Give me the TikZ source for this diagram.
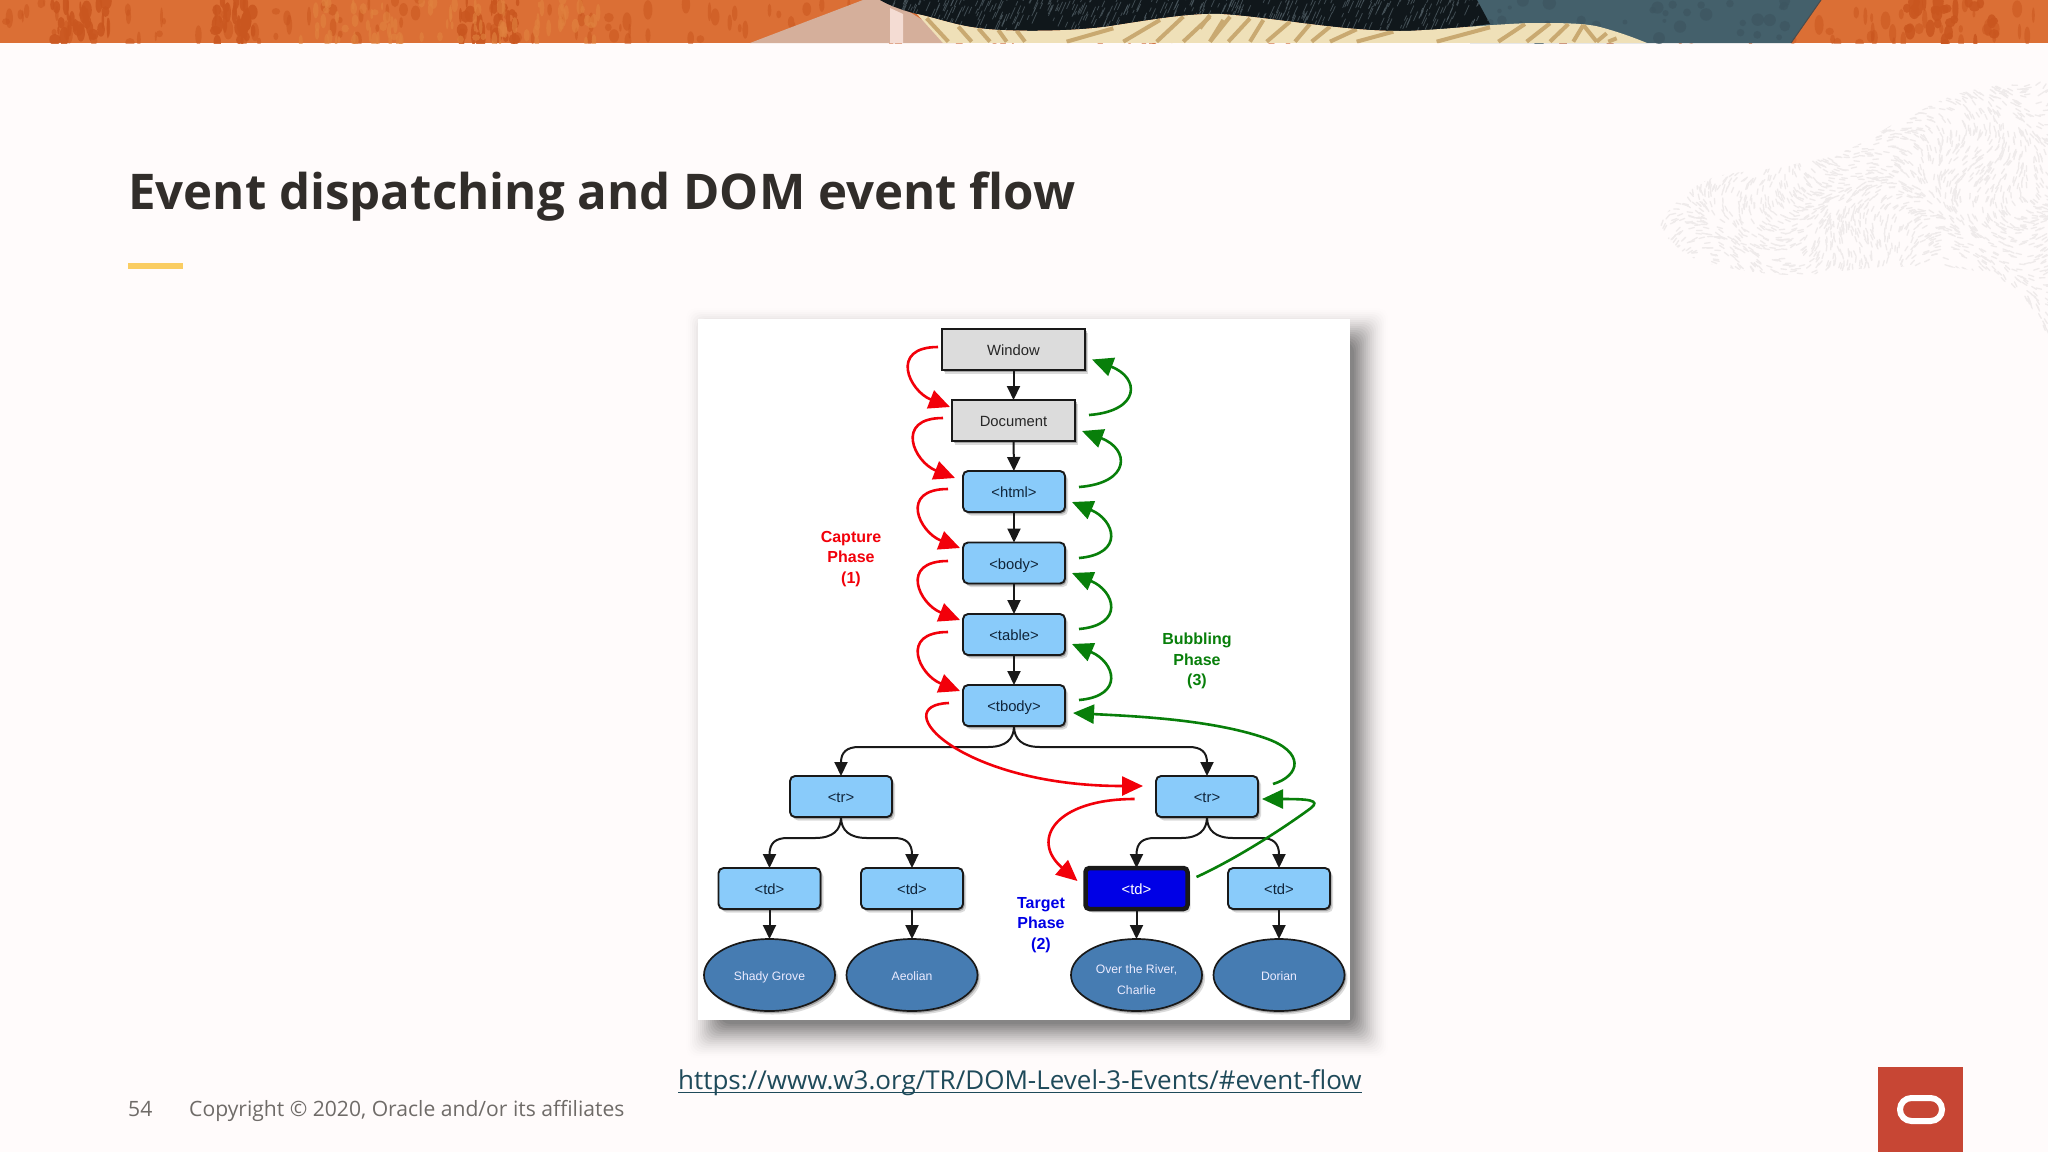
\documentclass[tikz,border=0pt]{standalone}
\usepackage{fontspec}
\setmainfont{Open Sans}
\newfontfamily\dg{Liberation Sans}
\usetikzlibrary{arrows.meta,shapes.geometric,shadows,calc}
\definecolor{bgc}{HTML}{FFFBFB}
\definecolor{orA}{HTML}{DB6F35}
\definecolor{orB}{HTML}{C9561F}
\definecolor{orC}{HTML}{E0833F}
\definecolor{peach}{HTML}{D5AF9B}
\definecolor{pstripe}{HTML}{F4DCD3}
\definecolor{tealc}{HTML}{44606B}
\definecolor{tealb}{HTML}{3D5661}
\definecolor{blk}{HTML}{10171B}
\definecolor{blkg}{HTML}{4F5C63}
\definecolor{cream}{HTML}{EFE0B8}
\definecolor{tan}{HTML}{C9A971}
\definecolor{blobc}{HTML}{EFEBEB}
\definecolor{titlec}{HTML}{312D2A}
\definecolor{barc}{HTML}{FACD62}
\definecolor{footc}{HTML}{6F6B68}
\definecolor{urlc}{HTML}{1F4A5A}
\definecolor{orared}{HTML}{C74634}
\definecolor{nblue}{HTML}{89CBFA}
\definecolor{ngray}{HTML}{DCDCDC}
\definecolor{nell}{HTML}{467CB2}
\definecolor{ntext}{HTML}{10253A}
\definecolor{rd}{HTML}{F2000A}
\definecolor{gr}{HTML}{087F0A}
\definecolor{bl}{HTML}{0000E6}
\tikzset{
  softshadow/.style={general shadow={shadow xshift=3pt,shadow yshift=-3.5pt,fill=black,opacity=.14},
                     general shadow={shadow xshift=1.5pt,shadow yshift=-2pt,fill=black,opacity=.25}},
  dbox/.style={draw=black!90,line width=1.9pt,minimum height=41pt,inner sep=0pt,outer sep=0pt,
               text height=12pt,text depth=0pt,
               font=\dg\fontsize{14.8}{17}\selectfont,text=ntext,softshadow},
  sbox/.style={dbox,fill=ngray,minimum width=#1,text=black!85},
  bbox/.style={dbox,fill=nblue,minimum width=102pt,rounded corners=5pt},
  tbox/.style={dbox,fill=bl,minimum width=102pt,rounded corners=4pt,line width=4.5pt,minimum height=41pt,text=white},
  dell/.style={ellipse,draw=black!90,line width=1.7pt,fill=nell,minimum width=131pt,minimum height=72pt,
               inner sep=0pt,outer sep=0pt,align=center,text=white!92!blue,
               text height=10.5pt,text depth=0pt,
               font=\dg\fontsize{12.2}{21}\selectfont,softshadow},
  lab/.style={align=center,inner sep=0pt,font=\dg\bfseries\fontsize{16}{20.3}\selectfont},
  blkarrow/.style={draw=black!90,line width=2pt,-{Triangle[length=14pt,width=13pt]}},
  redarrow/.style={draw=rd,line width=2.6pt,-{Triangle[length=21pt,width=19pt]}},
  grnarrow/.style={draw=gr,line width=2.6pt,-{Triangle[length=21pt,width=19pt]}},
  tanstroke/.style={draw=tan,line width=4pt},
}
\newcommand\redarc[6]{\draw[redarrow] ([shift={(#2,#3)}]#1.west) .. controls +(-49,0) and +(-41,-16) .. ([shift={(#5,#6)}]#4.west);}
\newcommand\grnarc[8]{\draw[grnarrow] ([shift={(#2,#3)}]#1.east) .. controls +(#7,-4) and +(#8,18) .. ([shift={(#5,#6)}]#4.east);}
\newcommand\branch[3]{\draw[blkarrow] let \p1=(#1.south),\p2=(#2.north) in
  (\p1) .. controls (\x1,\y1-13pt) and (\x1#38pt,\y1-21pt) .. (\x1#326pt,\y1-21pt)
  -- ($(\x2,\y1-21pt)!18pt!(\x1,\y1-21pt)$)
  .. controls (\x2#3 -6pt,\y1-21pt) and (\x2,\y1-26pt) .. (\p2);}
\begin{document}
\begin{tikzpicture}[x=1pt,y=-1pt]
\useasboundingbox (0,0) rectangle (2048,1152);
\fill[bgc] (0,0) rectangle (2048,1152);
\pgfmathsetseed{4217}
% header band
\begin{scope}
\clip (0,0) rectangle (2048,43);
\fill[orA] (0,0) rectangle (2048,43);
\foreach \i in {1,...,260}{
  \pgfmathsetmacro\px{rnd*2048}\pgfmathsetmacro\py{rnd*43}\pgfmathsetmacro\prx{1+rnd*4}\pgfmathsetmacro\pry{3+rnd*7}
  \fill[orB,opacity=.55] (\px,\py) ellipse[x radius=\prx,y radius=\pry];
}
\foreach \cx/\cw in {80/60,235/40,490/60,1950/90}{
  \foreach \i in {1,...,30}{
    \pgfmathsetmacro\px{\cx+(rnd-.5)*\cw}\pgfmathsetmacro\py{rnd*43}\pgfmathsetmacro\prx{1+rnd*5}\pgfmathsetmacro\pry{3+rnd*8}
    \fill[orB,opacity=.85] (\px,\py) ellipse[x radius=\prx,y radius=\pry];
  }
}
\foreach \i in {1,...,90}{
  \pgfmathsetmacro\px{300+rnd*300}\pgfmathsetmacro\py{rnd*43}\pgfmathsetmacro\prx{1+rnd*3}\pgfmathsetmacro\pry{3+rnd*6}
  \fill[orC,opacity=.6] (\px,\py) ellipse[x radius=\prx,y radius=\pry];
}
% peach
\fill[peach] (750,43) -- (863,0) -- (890,0) -- (960,43) -- cycle;
% teal
\fill[tealc] (1470,0) -- (1821,0) -- (1791,43) -- (1470,43) -- cycle;
\foreach \i in {1,...,40}{
  \pgfmathsetmacro\px{1490+rnd*300}\pgfmathsetmacro\py{rnd*40}
  \fill[tealb,opacity=.7] (\px,\py) circle[radius=2+rnd*5];
}
\draw[black!70,line width=1pt] (1821,0) -- (1791,43);
% black shape
\begin{scope}
\clip (880,0) .. controls (890,6) and (905,11) .. (917,14) -- (917,14) .. controls (945,20) and (960,28) .. (1000,30)
  .. controls (1040,32) and (1090,30) .. (1117,25) .. controls (1150,20) and (1190,13) .. (1220,14)
  .. controls (1270,17) and (1340,31) .. (1400,31) .. controls (1430,31) and (1460,28) .. (1490,24) -- (1477,0) -- cycle;
\fill[blk] (870,0) rectangle (1500,43);
\foreach \i in {1,...,420}{
  \pgfmathsetmacro\px{880+rnd*610}\pgfmathsetmacro\py{rnd*32}\pgfmathsetmacro\pl{3+rnd*9}
  \draw[blkg,line width=.8pt,opacity=.75] (\px,\py) -- ++(\pl*.45,-\pl);
}
\end{scope}
% cream wave
\begin{scope}
\clip (917,14) .. controls (945,20) and (960,28) .. (1000,30)
  .. controls (1040,32) and (1090,30) .. (1117,25) .. controls (1150,20) and (1190,13) .. (1220,14)
  .. controls (1270,17) and (1340,31) .. (1400,31) .. controls (1430,31) and (1490,24) .. (1533,23)
  .. controls (1560,23) and (1585,23) .. (1600,27) .. controls (1615,31) and (1630,36) .. (1647,43)
  -- (943,43) -- cycle;
\fill[cream] (900,0) rectangle (1660,43);
\begin{scope}[shift={(700,0)},x=.3333pt,y=-.3333pt]
  \foreach \ax/\ay/\bx/\by in {680/55/745/125,775/80/815/125,835/85/870/125,895/90/920/125,950/92/975/125,
     1100/125/1240/85,1270/125/1380/60,1370/125/1450/50,1450/125/1530/50,1530/125/1570/60}
    \draw[tanstroke] (\ax,\ay) -- (\bx,\by);
\end{scope}
\begin{scope}[shift={(1200,0)},x=.3333pt,y=-.3333pt]
  \foreach \ax/\ay/\bx/\by in {0/85/30/45,30/125/90/50,85/125/150/55,150/125/190/60,200/125/270/65,285/125/330/72,
     335/125/390/80,390/125/470/88,470/125/580/95,710/125/870/82,895/125/975/72,980/125/1050/70,1050/125/1105/72,
     1120/125/1150/75,1150/75/1190/125,1190/125/1220/100,1225/125/1250/115}
    \draw[tanstroke] (\ax,\ay) -- (\bx,\by);
\end{scope}
\end{scope}
\fill[pstripe] (890,8) -- (903,14) -- (903,43) -- (890,43) -- cycle;
\end{scope}
% watermark
\begin{scope}
\clip plot[smooth cycle,tension=.6] coordinates {(1662,220) (1707,180) (1773,168) (1840,153) (1907,117) (1973,90) (2060,86)
  (2060,345) (2033,310) (2007,283) (1957,268) (1873,268) (1790,275) (1707,263) (1673,243)};
\foreach \i in {1,...,3000}{
  \pgfmathsetmacro\px{1655+rnd*393}\pgfmathsetmacro\py{85+rnd*260}
  \pgfmathsetmacro\pa{70*sin(\px*1.5)+55*cos(\py*2.2)+rnd*30}
  \draw[blobc,line width=1.3pt,line cap=round] (\px,\py) -- ++(\pa:5.5);
}
\end{scope}
% title
\node[anchor=base west,inner sep=0pt,text=titlec,font=\bfseries\fontsize{49.2}{60}\selectfont] (title) at (128,209) {Event dispatching and DOM event flow};
\fill[barc] (128,263) rectangle (183,269);
% image shadow
\foreach \r [evaluate=\r as \op using {.004+.0017*(26-\r)}] in {26,24,...,-8}{
  \fill[black,opacity=\op,rounded corners=10pt] (712-\r,334-\r) rectangle (1362+\r,1032+\r);
}
\fill[white] (698,319) rectangle (1350,1020);
% diagram nodes
\node[sbox=143pt] (win) at (1013.5,349.5) {Window};
\node[sbox=123pt] (doc) at (1013.5,420.5) {Document};
\node[bbox] (html) at (1014,491.5) {<html>};
\node[bbox] (body) at (1014,563) {<body>};
\node[bbox] (table) at (1014,634.5) {<table>};
\node[bbox] (tbody) at (1014,705.5) {<tbody>};
\node[bbox] (trl) at (841,796.5) {<tr>};
\node[bbox] (trr) at (1207,796.5) {<tr>};
\node[bbox] (tda) at (769.5,888.5) {<td>};
\node[bbox] (tdb) at (912,888.5) {<td>};
\node[tbox] (tdc) at (1136.5,888.5) {<td>};
\node[bbox] (tdd) at (1279,888.5) {<td>};
\node[dell] (ea) at (769.5,975) {Shady Grove};
\node[dell] (eb) at (912,975) {Aeolian};
\node[dell,text height=38pt] (ec) at (1136.5,975) {Over the River,\\Charlie};
\node[dell] (ed) at (1279,975) {Dorian};
% black connectors
\draw[blkarrow] (win) -- (doc);
\draw[blkarrow] (doc) -- (html);
\draw[blkarrow] (html) -- (body);
\draw[blkarrow] (body) -- (table);
\draw[blkarrow] (table) -- (tbody);
\branch{tbody}{trl}{-}
\branch{tbody}{trr}{+}
\branch{trl}{tda}{-}
\branch{trl}{tdb}{+}
\branch{trr}{tdc}{-}
\branch{trr}{tdd}{+}
\draw[blkarrow] (tda) -- (ea);
\draw[blkarrow] (tdb) -- (eb);
\draw[blkarrow] (tdc) -- (ec);
\draw[blkarrow] (tdd) -- (ed);
% red connectors
\redarc{win}{-4}{-2.5}{doc}{-2}{-13.5}
\redarc{doc}{-9}{-2.5}{html}{-8}{-13.5}
\redarc{html}{-15}{-2.5}{body}{-3}{-15}
\redarc{body}{-15}{-2}{table}{-3}{-14.5}
\redarc{table}{-15}{-2.5}{tbody}{-3}{-14.5}
\draw[redarrow] ([shift={(-14,-2.5)}]tbody.west) .. controls (885,705) and (960,786) .. ([shift={(-13,-10.5)}]trr.west);
\draw[redarrow] ([shift={(-21.5,2.5)}]trr.west) .. controls (1055,799) and (1030,840) .. ([shift={(-8,-7.5)}]tdc.west);
% green connectors
\grnarc{doc}{14}{-5.5}{win}{7}{10}{52}{48}
\grnarc{html}{14}{-4.5}{doc}{7}{10.5}{52}{48}
\grnarc{body}{14}{-5}{html}{7}{10.5}{46}{43}
\grnarc{table}{14}{-5.5}{body}{7}{10}{46}{43}
\grnarc{tbody}{14}{-5.5}{table}{7}{9.5}{46}{43}
\draw[grnarrow] ([shift={(15,-12.5)}]trr.east) .. controls (1300,776) and (1306,752) .. (1265,738)
   .. controls (1210,719) and (1130,716) .. ([shift={(8,7.5)}]tbody.east);
\draw[grnarrow] ([shift={(9,-11.5)}]tdc.east) .. controls (1240,857) and (1288,825) .. (1311,808)
   .. controls (1321,800) and (1308,799) .. ([shift={(4,2.5)}]trr.east);
% labels
\node[lab,text=rd] (capt) at (851,559) {Capture\\Phase\\(1)};
\node[lab,text=gr] (bubb) at (1197,661) {Bubbling\\Phase\\(3)};
\node[lab,text=bl] (targ) at (1041,925) {Target\\Phase\\(2)};
% footer
\node[anchor=base west,inner sep=0pt,text=urlc,font=\fontsize{26}{30}\selectfont] (url) at (678,1089) {https://www.w3.org/TR/DOM-Level-3-Events/\#event-flow};
\draw[urlc,line width=1.6pt] ([yshift=-3.5pt]url.base west) -- ([yshift=-3.5pt]url.base east);
\node[anchor=base west,inner sep=0pt,text=footc,font=\fontsize{21.1}{26}\selectfont] (pg) at (128,1116) {54};
\node[anchor=base west,inner sep=0pt,text=footc,font=\fontsize{21.1}{26}\selectfont] (copy) at (189,1116) {Copyright © 2020, Oracle and/or its affiliates};
\fill[orared] (1878,1067) rectangle (1963,1152);
\draw[white,line width=6pt,rounded corners=11.4pt] (1900,1098) rectangle (1942,1121);
\end{tikzpicture}
\end{document}
